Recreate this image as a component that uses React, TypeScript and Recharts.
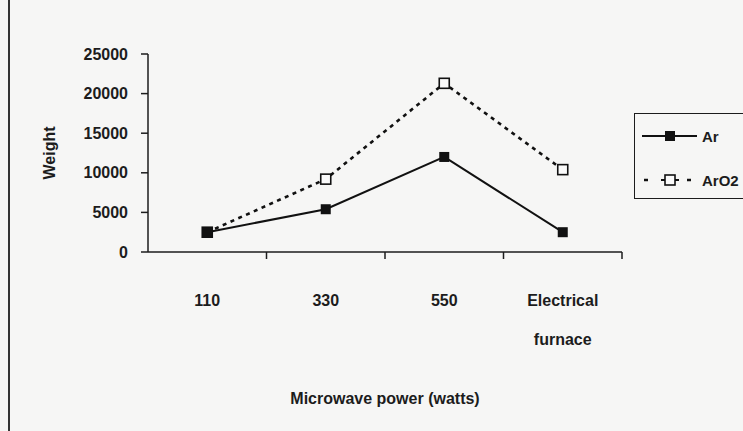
import React from 'react';
import { LineChart, Line, XAxis, YAxis, Legend, Label } from 'recharts';

const categories = ['110', '330', '550', 'Electrical\nfurnace'];
const arValues = [2500, 5400, 12000, 2500];
const arO2Values = [2500, 9200, 21300, 10400];
const yTicks = [0, 5000, 10000, 15000, 20000, 25000];
const seriesNames = ['Ar', 'ArO2'];
const xTitle = 'Microwave power (watts)';
const yTitle = 'Weight';

const data = categories.map((c, i) => ({
  pos: i + 0.5,
  category: c,
  Ar: arValues[i],
  ArO2: arO2Values[i],
}));
const xTicks = [0.5, 1, 1.5, 2, 2.5, 3, 3.5, 4];

const FONT = '"Liberation Sans", Arial, sans-serif';
const INK = '#1c1c1c';

const XTick = (props: any) => {
  const { x, y, payload } = props;
  const v = payload.value;
  if (Number.isInteger(v)) {
    return <line x1={x} x2={x} y1={y} y2={y + 7} stroke={INK} strokeWidth={1.5} />;
  }
  const lines = categories[Math.floor(v)].split('\n');
  return (
    <g>
      {lines.map((l, i) => (
        <text key={i} x={x} y={y + 54 + i * 39} textAnchor="middle" fontFamily={FONT} fontSize={16} fontWeight="bold" fill={INK}>
          {l}
        </text>
      ))}
    </g>
  );
};

const SquareFilled = (p: any) => (
  <rect key={`a${p.index}`} x={p.cx - 5} y={p.cy - 5} width={10} height={10} fill="#111" />
);
const SquareHollow = (p: any) => (
  <rect key={`b${p.index}`} x={p.cx - 5} y={p.cy - 5} width={10} height={10} fill="#fafafa" stroke="#111" strokeWidth={1.6} />
);

const LegendBox = () => (
  <div style={{ width: 130, height: 86, border: `1.5px solid ${INK}`, boxSizing: 'border-box', background: 'transparent' }}>
    <svg width={128} height={84} style={{ display: 'block' }}>
      <line x1={7} x2={62} y1={22} y2={22} stroke="#111" strokeWidth={2} />
      <rect x={30} y={17} width={10} height={10} fill="#111" />
      <text x={67} y={28} fontFamily={FONT} fontSize={15} fontWeight="bold" fill={INK}>{seriesNames[0]}</text>
      <line x1={9} x2={13} y1={66} y2={66} stroke="#111" strokeWidth={2.5} />
      <line x1={26} x2={44} y1={66} y2={66} stroke="#111" strokeWidth={2} />
      <rect x={30} y={61} width={10} height={10} fill="#fafafa" stroke="#111" strokeWidth={1.6} />
      <line x1={52} x2={56} y1={66} y2={66} stroke="#111" strokeWidth={2.5} />
      <text x={67} y={72} fontFamily={FONT} fontSize={15} fontWeight="bold" fill={INK}>{seriesNames[1]}</text>
    </svg>
  </div>
);

export default function App() {
  return (
    <div style={{ position: 'absolute', left: 0, top: 0, width: 743, height: 431, overflow: 'hidden', background: '#f6f6f5' }}>
      <div style={{ position: 'absolute', left: 8, top: 0, width: 2, height: 431, background: '#333' }} />
      <LineChart width={743} height={431} data={data} margin={{ top: 54, right: 121, bottom: 119, left: 48 }}>
        <XAxis
          dataKey="pos"
          type="number"
          domain={[0, 4]}
          ticks={xTicks}
          interval={0}
          tickSize={0}
          tickMargin={0}
          tickLine={false}
          tick={<XTick />}
          height={60}
          axisLine={{ stroke: INK, strokeWidth: 1.5 }}
        >
          <Label
            content={(p: any) => {
              const vb = p.viewBox;
              return (
                <text x={vb.x + vb.width / 2} y={vb.y + 152} textAnchor="middle" fontFamily={FONT} fontSize={16} fontWeight="bold" fill={INK}>
                  {xTitle}
                </text>
              );
            }}
          />
        </XAxis>
        <YAxis
          type="number"
          domain={[0, 25000]}
          ticks={yTicks}
          interval={0}
          width={100}
          tickSize={7}
          tickMargin={13}
          tick={{ fontFamily: FONT, fontSize: 16, fontWeight: 'bold', fill: INK }}
          tickLine={{ stroke: INK, strokeWidth: 1.5 }}
          axisLine={{ stroke: INK, strokeWidth: 1.5 }}
        >
          <Label
            content={(p: any) => {
              const vb = p.viewBox;
              const cx = vb.x + 1;
              const cy = vb.y + vb.height / 2;
              return (
                <text x={cx} y={cy} transform={`rotate(-90 ${cx} ${cy})`} textAnchor="middle" dominantBaseline="central" fontFamily={FONT} fontSize={16} fontWeight="bold" fill={INK}>
                  {yTitle}
                </text>
              );
            }}
          />
        </YAxis>
        <Legend
          layout="vertical"
          align="center"
          verticalAlign="middle"
          wrapperStyle={{ left: 634, top: 113, width: 130, height: 86 }}
          content={() => <LegendBox />}
        />
        <Line
          dataKey="ArO2"
          name={seriesNames[1]}
          stroke="#111"
          strokeWidth={2.6}
          strokeDasharray="4 4.5"
          dot={SquareHollow}
          isAnimationActive={false}
        />
        <Line
          dataKey="Ar"
          name={seriesNames[0]}
          stroke="#111"
          strokeWidth={2}
          dot={SquareFilled}
          isAnimationActive={false}
        />
      </LineChart>
    </div>
  );
}
